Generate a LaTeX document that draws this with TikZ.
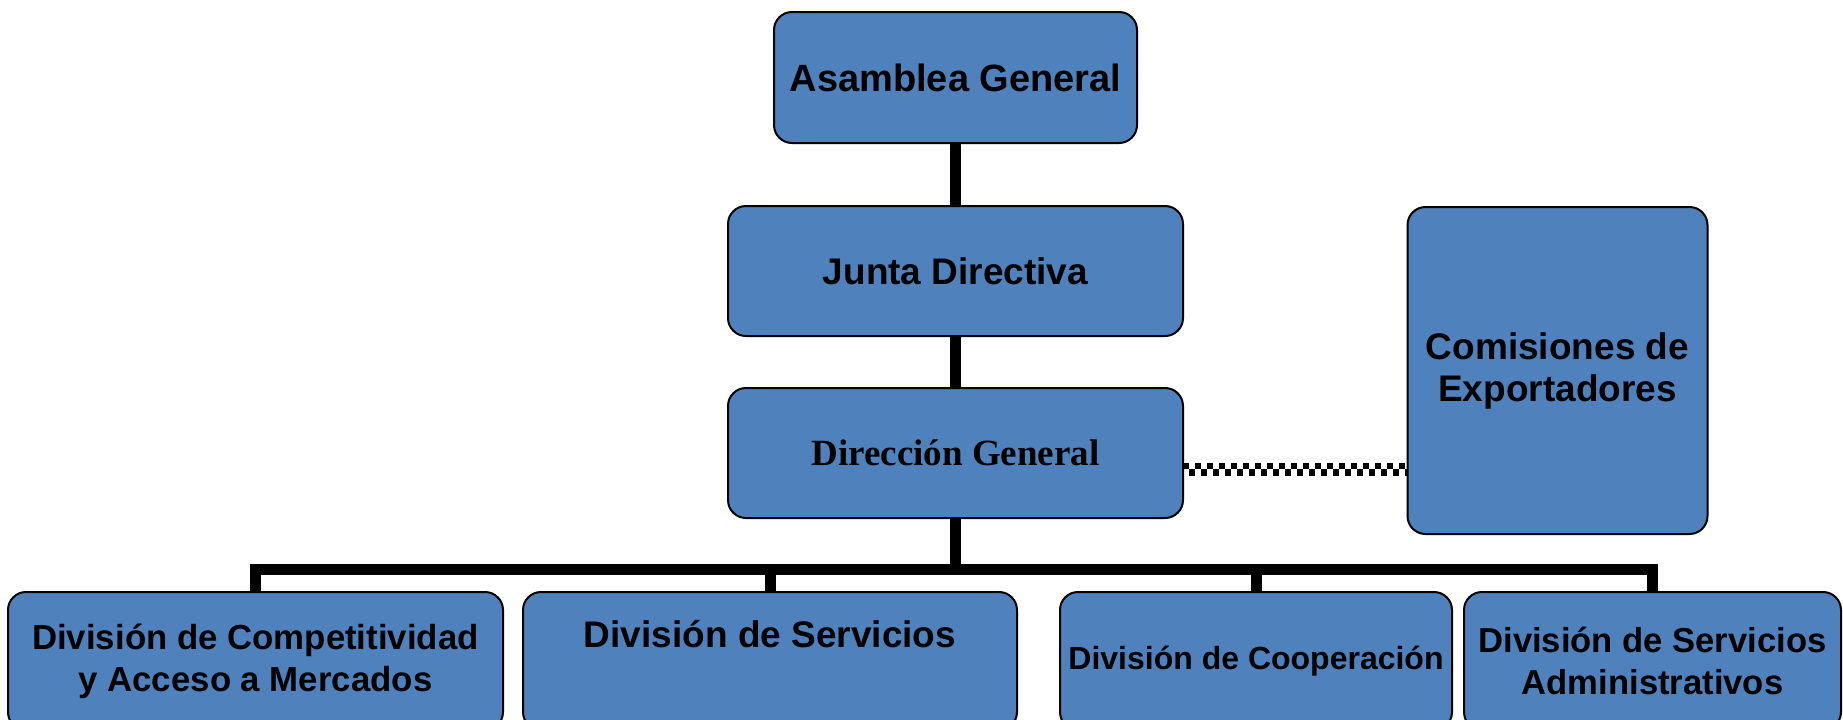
\documentclass[tikz,border=0pt]{standalone}
\usepackage{fontspec}
\setmainfont{Liberation Sans}
\newfontfamily\timesfont{Liberation Serif}
\definecolor{boxblue}{HTML}{4F81BD}

\begin{document}
\begin{tikzpicture}[x=0.5pt,y=-0.5pt,
  unit/.style={draw,line width=1pt,fill=boxblue,rounded corners=9pt,
    inner sep=0pt,outer sep=0pt,align=center},
  link/.style={line width=5.5pt},
  checker/.style={line width=3.25pt,dash pattern=on 3pt off 3pt}]
\useasboundingbox (0,0) rectangle (1843,719);
\clip (0,0) rectangle (1843,719);

\node [unit,minimum width=181.5pt,minimum height=65.5pt,
  font=\bfseries\fontsize{19}{23}\selectfont] (asam) at (955.5,77.5) {Asamblea General};
\node [unit,minimum width=227.5pt,minimum height=65pt,
  font=\bfseries\fontsize{18.5}{22}\selectfont] (junta) at (955.5,271) {Junta Directiva};
\node [unit,minimum width=227.5pt,minimum height=65pt,
  font=\timesfont\bfseries\fontsize{18.5}{22}\selectfont] (dir) at (955.5,453) {Dirección General};
\node [unit,minimum width=150pt,minimum height=163.5pt,
  font=\bfseries\fontsize{18.5}{21}\selectfont] (com) at (1557.5,370.5) {Comisiones de\\Exportadores};

\node [unit,minimum width=247.5pt,minimum height=69pt,
  font=\bfseries\fontsize{17.4}{21}\selectfont] (div1) at (255.5,661) {División de Competitividad\\y Acceso a Mercados};
\node [unit,minimum width=247pt,minimum height=69pt,
  font=\bfseries\fontsize{18.5}{21}\selectfont] (div2) at (770,661) {División de Servicios\\\strut};
\node [unit,minimum width=196pt,minimum height=69pt,
  font=\bfseries\fontsize{16}{19}\selectfont] (div3) at (1256,661) {División de Cooperación};
\node [unit,minimum width=188.5pt,minimum height=69pt,
  font=\bfseries\fontsize{17.3}{21}\selectfont] (div4) at (1652.5,661) {División de Servicios\\Administrativos};

\coordinate (bus) at (955.5,569);
\draw [link] (asam.south) -- (junta.north);
\draw [link] (junta.south) -- (dir.north);
\draw [link] (dir.south) -- (bus);
\draw [link] (div1.north) -- (div1.north |- bus) -- (div4.north |- bus) -- (div4.north);
\draw [link] (div2.north |- bus) -- (div2.north);
\draw [link] (div3.north |- bus) -- (div3.north);

\draw [checker] ([yshift=-6.5pt]dir.east) -- ([yshift=-6.5pt]dir.east -| com.west);
\draw [checker,dash phase=3pt] ([yshift=-9.75pt]dir.east) -- ([yshift=-9.75pt]dir.east -| com.west);
\end{tikzpicture}
\end{document}
